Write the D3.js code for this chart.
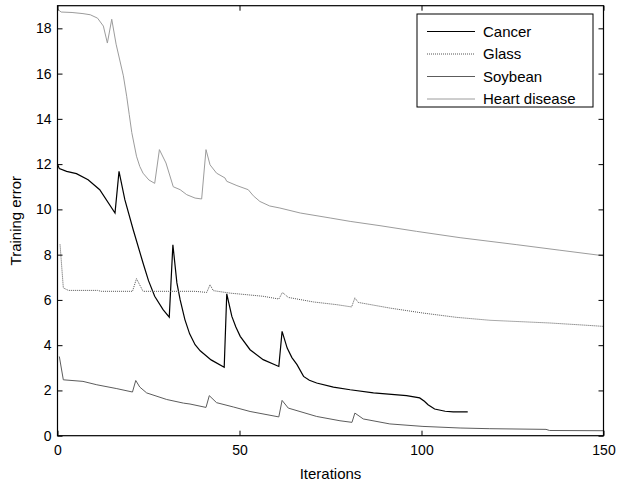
<!DOCTYPE html>
<html>
<head>
<meta charset="utf-8">
<script src="https://cdn.jsdelivr.net/npm/d3@7"></script>
<style>
  body { margin: 0; background: #fff; }
  text { font-family: Arial, "Liberation Sans", sans-serif; fill: #000; }
</style>
</head>
<body>
<div id="chart"></div>
<script>
// Training error per iteration
const cancer = [[0,12.0],[0.5,11.8],[2.5,11.68],[5.2,11.58],[8.4,11.31],[11.6,10.87],[15.8,9.84],[16.9,11.68],[18.5,10.43],[20.8,9.1],[23.5,7.63],[25,6.85],[26.7,6.16],[29,5.57],[30.7,5.24],[31.7,8.44],[32.8,6.75],[33.7,6.0],[35,5.13],[36.3,4.5],[37.8,4.02],[39.2,3.75],[42.2,3.35],[45.8,3.02],[46.5,6.27],[47.9,5.27],[49,4.8],[50.2,4.39],[52.9,3.8],[56.5,3.36],[60.8,3.06],[61.7,4.61],[63.1,3.87],[64.4,3.45],[65.8,3.14],[67.6,2.62],[69.2,2.45],[71.2,2.33],[75.8,2.15],[80.4,2.03],[86.8,1.89],[95.9,1.77],[99.5,1.67],[100.8,1.52],[101.8,1.37],[103.6,1.18],[106.5,1.08],[108.7,1.05],[112.7,1.05]];
const glass = [[0.7,8.45],[1.6,6.53],[3,6.42],[11,6.42],[12,6.38],[20.6,6.38],[21.7,6.94],[23.5,6.38],[37.8,6.38],[41,6.33],[41.9,6.67],[42.8,6.41],[47.4,6.3],[52,6.23],[56.5,6.16],[60.8,6.04],[61.8,6.33],[63.4,6.11],[70.3,5.91],[76.7,5.79],[80.8,5.69],[81.7,6.09],[82.6,5.89],[91.3,5.64],[100.4,5.42],[109.6,5.23],[118.8,5.1],[135.3,4.98],[146.3,4.87],[150,4.83]];
const soybean = [[0.5,3.5],[1.6,2.47],[7,2.4],[10.8,2.25],[16.3,2.08],[20.6,1.93],[21.5,2.44],[22.6,2.15],[24.5,1.89],[30,1.6],[34.6,1.44],[36.4,1.4],[40.8,1.25],[41.7,1.77],[43.7,1.46],[48.3,1.27],[52.9,1.07],[60.8,0.83],[61.7,1.56],[63.4,1.22],[71.2,0.85],[77.6,0.66],[80.9,0.59],[81.7,1.0],[84,0.74],[91.3,0.52],[100.4,0.41],[110.6,0.34],[118.6,0.31],[134.2,0.28],[135.2,0.23],[150,0.22]];
const heart = [[0,18.85],[1,18.72],[4,18.7],[7,18.65],[9,18.6],[11,18.45],[12.6,18.1],[13.7,17.35],[14.9,18.4],[16.1,17.3],[17.1,16.6],[18.1,15.9],[19,15.0],[19.7,14.2],[20.4,13.4],[21.7,12.35],[22.6,11.9],[23.5,11.6],[25.1,11.3],[26.7,11.15],[28,12.64],[29.8,12.05],[31.8,11.0],[33.7,10.87],[35.5,10.65],[37.8,10.5],[39.6,10.46],[40.8,12.64],[41.9,11.97],[43.7,11.6],[46,11.39],[46.5,11.24],[49.3,11.05],[52.4,10.87],[53.8,10.6],[55.6,10.35],[58.3,10.15],[61.1,10.06],[66.7,9.84],[74.9,9.62],[80.4,9.47],[88.6,9.28],[98.6,9.03],[110.6,8.75],[126.2,8.44],[137.8,8.2],[150,7.95]];

const seriesNames = ["Cancer", "Glass", "Soybean", "Heart disease"];
const xTicks = [0, 50, 100, 150];
const yTicks = [0, 2, 4, 6, 8, 10, 12, 14, 16, 18];

const width = 618, height = 487;
const mLeft = 57.5, mRight = 603.5, mTop = 5.7, mBottom = 435.7;

const svg = d3.select("#chart").append("svg")
    .attr("width", width)
    .attr("height", height);

const x = d3.scaleLinear().domain([0, 150]).range([mLeft, mRight]);
const y = d3.scaleLinear().domain([0, 19]).range([mBottom, mTop]);

// line styles per series
const styles = [
    { color: "#000", width: 1.2, dash: null },
    { color: "#555", width: 1, dash: "1,1" },
    { color: "#5c5c5c", width: 1, dash: null },
    { color: "#9c9c9c", width: 1, dash: null }
];
const allSeries = [cancer, glass, soybean, heart];

const line = d3.line().x(d => x(d[0])).y(d => y(d[1]));

const plot = svg.append("g");
allSeries.forEach((s, i) => {
    plot.append("path")
        .datum(s)
        .attr("d", line)
        .attr("fill", "none")
        .attr("stroke", styles[i].color)
        .attr("stroke-width", styles[i].width)
        .attr("stroke-dasharray", styles[i].dash);
});

// axes: ticks pointing inward on all four sides
const tk = 5;
svg.append("g").attr("transform", `translate(0,${mBottom})`)
    .call(d3.axisBottom(x).tickValues(xTicks).tickSize(-tk).tickPadding(9))
    .call(g => g.select(".domain").remove());
svg.append("g").attr("transform", `translate(0,${mTop})`)
    .call(d3.axisTop(x).tickValues(xTicks).tickSize(-tk).tickFormat(""))
    .call(g => g.select(".domain").remove());
svg.append("g").attr("transform", `translate(${mLeft},0)`)
    .call(d3.axisLeft(y).tickValues(yTicks).tickSize(-tk).tickPadding(6))
    .call(g => g.select(".domain").remove());
svg.append("g").attr("transform", `translate(${mRight},0)`)
    .call(d3.axisRight(y).tickValues(yTicks).tickSize(-tk).tickFormat(""))
    .call(g => g.select(".domain").remove());

svg.selectAll(".tick line").attr("stroke", "#000");
svg.selectAll(".tick text")
    .style("font-size", "14px")
    .style("font-family", "Arial, 'Liberation Sans', sans-serif")
    .attr("fill", "#000");

svg.append("rect")
    .attr("x", mLeft).attr("y", mTop)
    .attr("width", mRight - mLeft).attr("height", mBottom - mTop)
    .attr("fill", "none").attr("stroke", "#000").attr("stroke-width", 1.2);

// axis titles
svg.append("text")
    .attr("x", (mLeft + mRight) / 2)
    .attr("y", 479)
    .attr("text-anchor", "middle")
    .style("font-size", "15px")
    .text("Iterations");

svg.append("text")
    .attr("transform", `translate(21,${(mTop + mBottom) / 2}) rotate(-90)`)
    .attr("text-anchor", "middle")
    .style("font-size", "15px")
    .text("Training error");

// legend
const legend = svg.append("g");
legend.append("rect")
    .attr("x", 417).attr("y", 14)
    .attr("width", 176).attr("height", 93)
    .attr("fill", "#fff").attr("stroke", "#000").attr("stroke-width", 1);

seriesNames.forEach((name, i) => {
    const ly = 31.5 + i * 22.5;
    legend.append("line")
        .attr("x1", 427).attr("x2", 475)
        .attr("y1", ly).attr("y2", ly)
        .attr("stroke", styles[i].color)
        .attr("stroke-width", styles[i].width)
        .attr("stroke-dasharray", styles[i].dash);
    legend.append("text")
        .attr("x", 483).attr("y", ly + 5)
        .style("font-size", "15px")
        .text(name);
});
</script>
</body>
</html>
